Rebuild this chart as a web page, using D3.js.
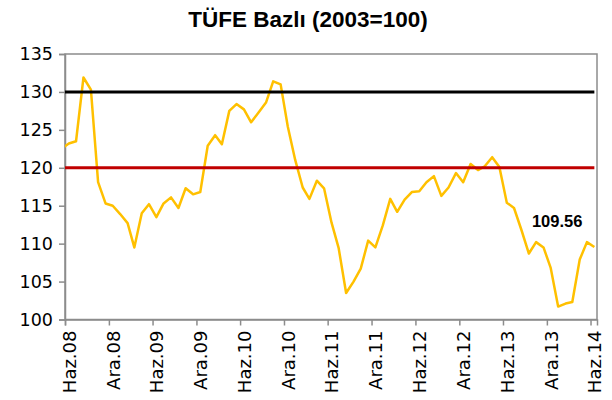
<!DOCTYPE html>
<html>
<head>
<meta charset="utf-8">
<script src="https://cdn.jsdelivr.net/npm/d3@7"></script>
<style>
  body { margin: 0; background: #fff; }
  svg { display: block; }
  .title { font-family: "Liberation Sans", Arial, sans-serif; font-weight: bold; font-size: 22.5px; }
  .yAxis text { font-family: "DejaVu Sans", sans-serif; font-size: 17.5px; fill: #000; }
  .xAxis text { font-family: "DejaVu Sans", sans-serif; font-size: 18px; fill: #000; }
  .valueLabel { font-family: "Liberation Sans", Arial, sans-serif; font-weight: bold; font-size: 16.5px; }
</style>
</head>
<body>
<div id="chart"></div>
<script>
// monthly series, first value is May 2008 (clipped by the axis start)
var firstMonth = new Date(2008, 4, 17);
var tufeValues = [
  122.5, 123.2, 123.5, 131.9, 130.3, 118.1, 115.3, 115.0, 113.9, 112.7, 109.5, 114.0,
  115.2, 113.5, 115.3, 116.1, 114.7, 117.3, 116.5, 116.8, 122.9, 124.3, 123.1, 127.5,
  128.4, 127.7, 126.0, 127.3, 128.6, 131.4, 131.0, 125.4, 121.0, 117.4, 115.9, 118.3,
  117.3, 112.8, 109.4, 103.5, 105.0, 106.7, 110.4, 109.5, 112.4, 115.9, 114.2, 115.8,
  116.8, 116.9, 118.1, 118.9, 116.3, 117.4, 119.3, 118.1, 120.5, 119.7, 120.2, 121.4,
  120.1, 115.4, 114.7, 111.8, 108.7, 110.2, 109.5, 106.8, 101.7, 102.1, 102.3, 107.9,
  110.2, 109.56
];
var refLines = [130, 120];
var refColors = ["#000000", "#C00000"];
var yTicks = [100, 105, 110, 115, 120, 125, 130, 135];
var monthNames = { 5: "Haz", 11: "Ara" };
var titleText = "TÜFE Bazlı (2003=100)";
var lastLabel = "109.56";

var svgWidth = 612;
var svgHeight = 400;
var margin = { top: 54, right: 15, bottom: 80.5, left: 65 };
var chart_width = svgWidth - margin.left - margin.right;
var chart_height = svgHeight - margin.top - margin.bottom;

var data = tufeValues.map(function(v, i) {
    return { date: d3.timeMonth.offset(firstMonth, i), value: v };
});

var svg = d3.select("#chart")
    .append("svg")
    .attr("width", svgWidth)
    .attr("height", svgHeight);

svg.append("text")
    .attr("class", "title")
    .attr("x", 308)
    .attr("y", 27)
    .attr("text-anchor", "middle")
    .text(titleText);

var chartGroup = svg.append("g")
    .attr("transform", `translate(${margin.left}, ${margin.top})`);

var xScale = d3.scaleTime()
    .domain([new Date(2008, 5, 1), new Date(2014, 5, 28)])
    .range([0, chart_width]);

var yScale = d3.scaleLinear()
    .domain([100, 135])
    .range([chart_height, 0]);

chartGroup.append("clipPath")
    .attr("id", "plotClip")
    .append("rect")
    .attr("width", chart_width)
    .attr("height", chart_height);

// plot frame
chartGroup.append("rect")
    .attr("width", chart_width)
    .attr("height", chart_height)
    .attr("fill", "none")
    .attr("stroke", "#8c8c8c")
    .attr("stroke-width", 1.5);

var tickDates = d3.timeMonth.range(new Date(2008, 5, 1), new Date(2014, 5, 2), 6);

var bottomAxis = d3.axisBottom(xScale)
    .tickValues(tickDates)
    .tickSizeOuter(0)
    .tickSize(6)
    .tickFormat(function(d) {
        return monthNames[d.getMonth()] + "." + d3.timeFormat("%y")(d);
    });

var xAxisG = chartGroup.append("g")
    .attr("class", "xAxis")
    .attr("transform", `translate(0, ${chart_height})`)
    .call(bottomAxis);

xAxisG.selectAll("text")
    .attr("text-anchor", "end")
    .attr("transform", "rotate(-90)")
    .attr("x", -11)
    .attr("y", 4)
    .attr("dy", "0.35em");

var leftAxis = d3.axisLeft(yScale)
    .tickValues(yTicks)
    .tickSizeOuter(0)
    .tickSize(6)
    .tickPadding(6);

var yAxisG = chartGroup.append("g")
    .attr("class", "yAxis")
    .call(leftAxis);

chartGroup.selectAll(".domain, .tick line")
    .attr("stroke", "#8c8c8c")
    .attr("stroke-width", 1.5);

var plot = chartGroup.append("g")
    .attr("clip-path", "url(#plotClip)");

var line = d3.line()
    .x(d => xScale(d.date))
    .y(d => yScale(d.value));

plot.append("path")
    .datum(data)
    .attr("fill", "none")
    .attr("stroke", "#FFC000")
    .attr("stroke-width", 2.5)
    .attr("stroke-linejoin", "round")
    .attr("d", line);

var lastPoint = data[data.length - 1];

plot.selectAll(".refLine")
    .data(refLines)
    .enter()
    .append("line")
    .attr("class", "refLine")
    .attr("x1", xScale(data[0].date))
    .attr("x2", xScale(lastPoint.date))
    .attr("y1", d => yScale(d))
    .attr("y2", d => yScale(d))
    .attr("stroke", (d, i) => refColors[i])
    .attr("stroke-width", 3);

chartGroup.append("text")
    .attr("class", "valueLabel")
    .attr("x", xScale(lastPoint.date) - 12)
    .attr("y", yScale(lastPoint.value) - 20)
    .attr("text-anchor", "end")
    .text(lastLabel);
</script>
</body>
</html>
